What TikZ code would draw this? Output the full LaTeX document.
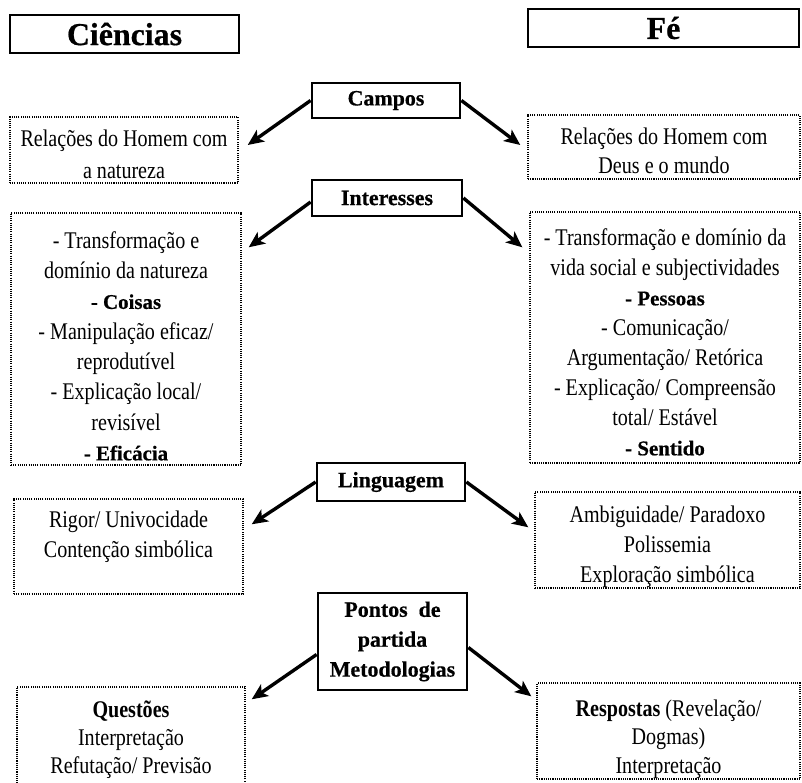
\documentclass[tikz,border=0pt]{standalone}
\usepackage{fontspec}
\setmainfont{Liberation Serif}
\newfontfamily\bodyf{Liberation Serif}[FakeStretch=0.84]
\newfontfamily\headf{Liberation Serif}[FakeBold=0.6]
\usetikzlibrary{arrows.meta}
\newcommand\hb[1]{{\headf\fontsize{21}{30}\selectfont\bfseries #1}}
\newcommand\cb[1]{{\bodyf\fontsize{24}{30}\selectfont\bfseries #1}}
\begin{document}
\begin{tikzpicture}[x=1bp,y=-1bp,
  hbox/.style={draw, line width=2.8bp, inner sep=0pt, align=center,
    font=\headf\fontsize{22}{30}\selectfont\bfseries},
  dbox/.style={draw, line width=1.4bp, dash pattern=on 1.1bp off 1.1bp, inner sep=0pt},
  txt/.style={align=center, inner sep=0pt},
  arr/.style={line width=3.4bp, -{Stealth[length=16bp,width=14bp,inset=4bp]}}]
\clip (0,0) rectangle (802,783);
\fill[white] (0,0) rectangle (802,783);

% titles
\node[hbox, minimum width=229bp, minimum height=38bp,
  font=\headf\fontsize{32}{36}\selectfont\bfseries] (cien) at (124.5,34) {Ciências};
\node[hbox, minimum width=271bp, minimum height=38bp,
  font=\headf\fontsize{32}{36}\selectfont\bfseries] (fe) at (663.5,28) {Fé};

% central headings
\node[hbox, minimum width=148bp, minimum height=35bp] (campos) at (386,100.5) {Campos};
\node[hbox, minimum width=150bp, minimum height=36bp] (inter) at (387,198) {Interesses};
\node[hbox, minimum width=148bp, minimum height=38bp] (ling) at (391,482) {Linguagem};
\node[hbox, minimum width=149bp, minimum height=97bp] (pontos) at (392.5,641.5)
  {Pontos\ \ de\\partida\\Metodologias};

% side boxes
\node[dbox, minimum width=228bp, minimum height=66bp] (l1) at (124,150) {};
\node[dbox, minimum width=272bp, minimum height=64bp] (r1) at (664,147) {};
\node[dbox, minimum width=230bp, minimum height=252bp] (l2) at (126,339) {};
\node[dbox, minimum width=270bp, minimum height=251bp] (r2) at (665,337.5) {};
\node[dbox, minimum width=229bp, minimum height=95bp] (l3) at (128.5,546.5) {};
\node[dbox, minimum width=265bp, minimum height=96bp] (r3) at (667.5,540) {};
\node[dbox, minimum width=228bp, minimum height=113bp] (l4) at (131,743.5) {};
\node[dbox, minimum width=263bp, minimum height=96bp] (r4) at (668.5,731) {};

% texts
\node[txt, font=\bodyf\fontsize{24}{32}\selectfont] (l1t) at (124,154)
  {Relações do Homem com\\a natureza};
\node[txt, font=\bodyf\fontsize{24}{29}\selectfont] (r1t) at (664,151)
  {Relações do Homem com\\Deus e o mundo};
\node[txt, font=\bodyf\fontsize{24}{30.4}\selectfont] (l2t) at (126,346)
  {- Transformação e\\domínio da natureza\\\hb{- Coisas}\\- Manipulação eficaz/\\reprodutível\\- Explicação local/\\revisível\\\hb{- Eficácia}};
\node[txt, font=\bodyf\fontsize{24}{30.1}\selectfont] (r2t) at (665,342)
  {- Transformação e domínio da\\vida social e subjectividades\\\hb{- Pessoas}\\- Comunicação/\\Argumentação/ Retórica\\- Explicação/ Compreensão\\total/ Estável\\\hb{- Sentido}};
\node[txt, font=\bodyf\fontsize{24}{30}\selectfont] (l3t) at (128.5,537)
  {Rigor/ Univocidade\\Contenção simbólica};
\node[txt, font=\bodyf\fontsize{24}{30}\selectfont] (r3t) at (667.5,547)
  {Ambiguidade/ Paradoxo\\Polissemia\\Exploração simbólica};
\node[txt, font=\bodyf\fontsize{24}{28}\selectfont] (l4t) at (131,740)
  {\cb{Questões}\\Interpretação\\Refutação/ Previsão};
\node[txt, font=\bodyf\fontsize{24}{28.5}\selectfont] (r4t) at (668.5,739)
  {\cb{Respostas} (Revelação/\\Dogmas)\\Interpretação};

% arrows
\draw[arr] (campos.west) -- ([xshift=9bp,yshift=5bp]l1.east);
\draw[arr] (campos.east) -- ([xshift=-7bp,yshift=2bp]r1.west);
\draw[arr] ([yshift=-4bp]inter.west) -- ([xshift=7bp,yshift=-35bp]l2.north east);
\draw[arr] (inter.east) -- ([xshift=-7bp,yshift=-36bp]r2.north west);
\draw[arr] (ling.west) -- ([xshift=8bp,yshift=-26bp]l3.north east);
\draw[arr] (ling.east) -- ([xshift=-6bp,yshift=-36bp]r3.north west);
\draw[arr] ([yshift=-13bp]pontos.west) -- ([xshift=6bp,yshift=-13bp]l4.north east);
\draw[arr] ([yshift=-6bp]pontos.east) -- ([xshift=-5bp,yshift=-14bp]r4.north west);
\end{tikzpicture}
\end{document}
